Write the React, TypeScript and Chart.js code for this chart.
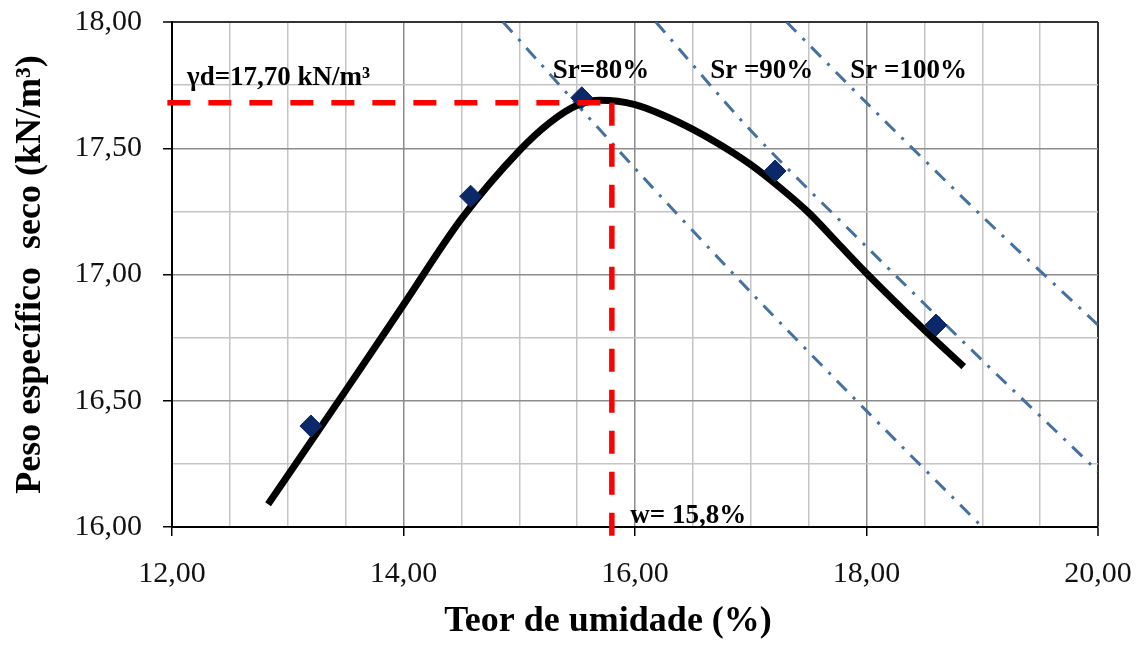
import React, { useEffect, useRef } from 'react';
import { Chart, registerables } from 'chart.js';

Chart.register(...registerables);

// Measured compaction points (moisture %, dry unit weight kN/m³)
const moisture = [13.2, 14.58, 15.54, 17.21, 18.6];
const dryUnitWeight = [16.4, 17.31, 17.7, 17.41, 16.8];

// Fitted compaction curve
const curveMoisture = [12.83, 13.5, 14.0, 14.5, 15.0, 15.26, 15.5, 15.7, 16.0, 16.25, 16.5, 16.75, 17.0, 17.25, 17.5, 17.75, 18.0, 18.5, 18.84];
const curveWeight = [16.09, 16.54, 16.88, 17.22, 17.49, 17.6, 17.67, 17.69, 17.673, 17.63, 17.575, 17.51, 17.435, 17.345, 17.245, 17.125, 17.005, 16.78, 16.635];

// Saturation lines
const sr80Moisture = [14.86, 16.0, 17.0, 18.0, 19.0];
const sr80Weight = [18.0, 17.42, 16.93, 16.46, 16.0];
const sr90Moisture = [16.18, 17.0, 18.0, 19.0, 20.0];
const sr90Weight = [18.0, 17.57, 17.11, 16.66, 16.22];
const sr100Moisture = [17.31, 18.0, 19.0, 20.0];
const sr100Weight = [18.0, 17.68, 17.23, 16.8];

// Optimum reference lines
const optimumMoisture = 15.8;
const maxDryWeight = 17.68;
const refHLineX = [11.96, optimumMoisture];
const refVLineY = [maxDryWeight, 15.94];

// Tick labels
const xMajorTicks = [12, 14, 16, 18, 20];
const xTickLabels = ['12,00', '14,00', '16,00', '18,00', '20,00'];
const yMajorTicks = [16, 16.5, 17, 17.5, 18];
const yTickLabels = ['16,00', '16,50', '17,00', '17,50', '18,00'];

// Text annotations (anchored in data coordinates)
const annotationTexts = ['γd=17,70 kN/m³', 'Sr=80%', 'Sr =90%', 'Sr =100%', 'w= 15,8%'];
const annotationX = [12.13, 15.29, 16.65, 17.86, 15.96];
const annotationY = [17.75, 17.78, 17.78, 17.78, 16.016];

const xTitle = 'Teor de umidade (%)';
const yTitle = 'Peso específico  seco (kN/m³)';

const SERIF = '"Liberation Serif", "Times New Roman", serif';

const zip = (xs: number[], ys: number[]) => xs.map((x, i) => ({ x, y: ys[i] }));

const annotationPlugin = {
  id: 'textAnnotations',
  afterDatasetsDraw(chart: any) {
    const { ctx, scales } = chart;
    ctx.save();
    ctx.fillStyle = '#000';
    ctx.font = `bold 27px ${SERIF}`;
    ctx.textAlign = 'left';
    ctx.textBaseline = 'alphabetic';
    annotationTexts.forEach((t, i) => {
      ctx.fillText(t, scales.x.getPixelForValue(annotationX[i]), scales.y.getPixelForValue(annotationY[i]));
    });
    ctx.restore();
  },
};

export default function App() {
  const canvasRef = useRef<HTMLCanvasElement | null>(null);

  useEffect(() => {
    if (!canvasRef.current) return;
    const srStyle = {
      type: 'line' as const,
      showLine: true,
      borderColor: '#45709f',
      borderWidth: 3,
      borderDash: [14, 9, 3, 9],
      pointRadius: 0,
      fill: false,
      tension: 0.3,
      order: 4,
    };
    const refStyle = {
      type: 'line' as const,
      borderColor: '#ff0000',
      borderWidth: 5.5,
      borderDash: [23, 18],
      pointRadius: 0,
      clip: false,
      order: 0,
    };
    const chart = new Chart(canvasRef.current, {
      type: 'scatter',
      data: {
        datasets: [
          { ...refStyle, label: 'γd máx', data: zip(refHLineX, [maxDryWeight, maxDryWeight]) } as any,
          { ...refStyle, label: 'w ótima', data: zip([optimumMoisture, optimumMoisture], refVLineY) } as any,
          {
            label: 'Ensaios',
            data: zip(moisture, dryUnitWeight),
            pointStyle: 'rectRot',
            pointRadius: 11,
            pointBackgroundColor: '#0b2868',
            pointBorderColor: '#0b2868',
            pointBorderWidth: 1,
            showLine: false,
            order: 1,
          } as any,
          {
            type: 'line',
            label: 'Curva',
            data: zip(curveMoisture, curveWeight),
            borderColor: '#000',
            borderWidth: 7,
            pointRadius: 0,
            cubicInterpolationMode: 'monotone',
            borderCapStyle: 'butt',
            order: 2,
          } as any,
          { ...srStyle, label: 'Sr=80%', data: zip(sr80Moisture, sr80Weight) } as any,
          { ...srStyle, label: 'Sr=90%', data: zip(sr90Moisture, sr90Weight) } as any,
          { ...srStyle, label: 'Sr=100%', data: zip(sr100Moisture, sr100Weight) } as any,
        ],
      },
      options: {
        animation: false,
        responsive: true,
        maintainAspectRatio: false,
        layout: { padding: { top: 14, right: 40, bottom: 0, left: 0 } },
        plugins: {
          legend: { display: false },
          tooltip: { enabled: false },
        },
        scales: {
          x: {
            type: 'linear',
            min: 12,
            max: 20,
            afterFit: (s: any) => {
              s.height = 113;
              s.paddingLeft = 0;
              s.paddingRight = 0;
            },
            ticks: {
              stepSize: 0.5,
              autoSkip: false,
              maxRotation: 0,
              padding: 20,
              color: '#111',
              font: { family: SERIF, size: 30 },
              callback: (v: any) => {
                const i = xMajorTicks.indexOf(Number(v));
                return i >= 0 ? xTickLabels[i] : '';
              },
            },
            grid: {
              color: (c: any) => {
                const v = c.tick?.value;
                if (v === 20) return '#333';
                return xMajorTicks.includes(v) ? '#8c8c8c' : '#c4c4c4';
              },
              lineWidth: (c: any) => (c.tick?.value === 20 ? 2 : 1.5),
              tickLength: 9,
              tickWidth: 1.5,
              tickColor: (c: any) => (xMajorTicks.includes(c.tick?.value) ? '#000' : 'rgba(0,0,0,0)'),
            },
            border: { color: '#000', width: 2 },
            title: {
              display: true,
              text: xTitle + '      ',
              color: '#000',
              font: { family: SERIF, size: 36, weight: 'bold', lineHeight: 1 },
              padding: { top: 0, bottom: 0 },
            },
          },
          y: {
            type: 'linear',
            min: 16,
            max: 18,
            afterFit: (s: any) => {
              s.width = 164;
              s.paddingTop = 0;
              s.paddingBottom = 0;
            },
            ticks: {
              stepSize: 0.25,
              autoSkip: false,
              padding: 21,
              color: '#111',
              font: { family: SERIF, size: 30 },
              callback: (v: any) => {
                const i = yMajorTicks.indexOf(Number(v));
                return i >= 0 ? yTickLabels[i] : '';
              },
            },
            grid: {
              color: (c: any) => {
                const v = c.tick?.value;
                if (v === 18) return '#333';
                return yMajorTicks.includes(v) ? '#8c8c8c' : '#c4c4c4';
              },
              lineWidth: (c: any) => (c.tick?.value === 18 ? 2 : 1.5),
              tickLength: 9,
              tickWidth: 1.5,
              tickColor: (c: any) => (yMajorTicks.includes(c.tick?.value) ? '#000' : 'rgba(0,0,0,0)'),
            },
            border: { color: '#000', width: 2 },
            title: {
              display: true,
              text: yTitle,
              color: '#000',
              font: { family: SERIF, size: 36, weight: 'bold', lineHeight: 1 },
              padding: { top: 5, bottom: 0 },
            },
          },
        },
      } as any,
      plugins: [annotationPlugin],
    });
    return () => chart.destroy();
  }, []);

  return (
    <div style={{ width: 1130, height: 632, position: 'relative' }}>
      <canvas ref={canvasRef} />
    </div>
  );
}
